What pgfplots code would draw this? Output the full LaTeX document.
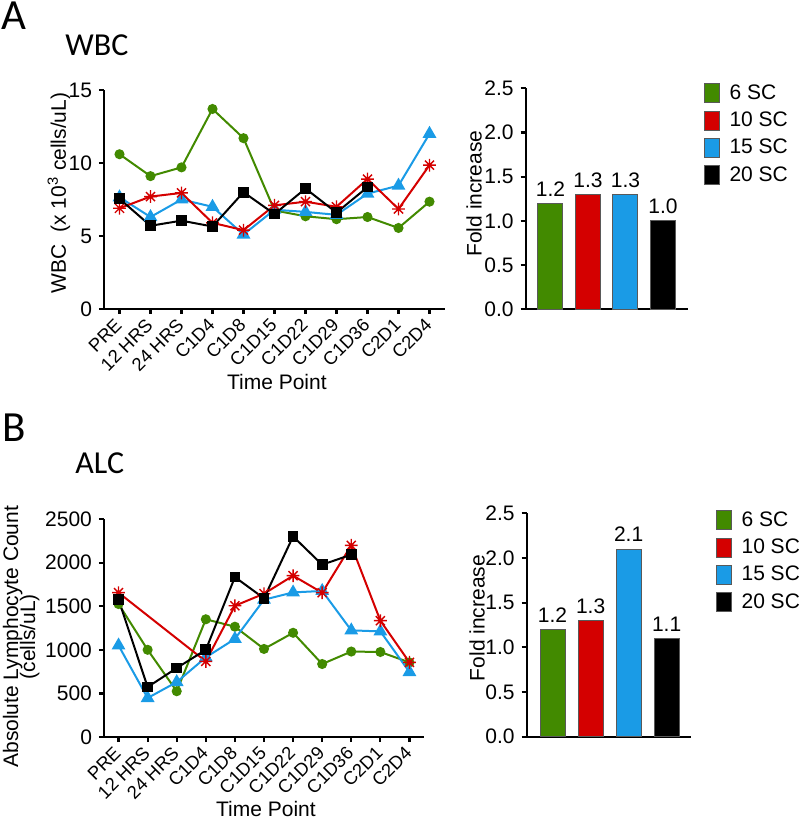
\documentclass[border=0pt]{standalone}
\usepackage{fontspec}
\setmainfont{Liberation Sans}
\newfontfamily\calibri{Carlito}
\usepackage{pgfplots}
\pgfplotsset{compat=1.18}

\definecolor{cgreen}{HTML}{428A00}
\definecolor{cred}{HTML}{D40000}
\definecolor{cblue}{HTML}{1A9BE6}

\pgfdeclareplotmark{ast8}{%
 \pgfpathmoveto{\pgfqpoint{-\pgfplotmarksize}{0pt}}\pgfpathlineto{\pgfqpoint{\pgfplotmarksize}{0pt}}%
 \pgfpathmoveto{\pgfqpoint{0pt}{-\pgfplotmarksize}}\pgfpathlineto{\pgfqpoint{0pt}{\pgfplotmarksize}}%
 \pgfpathmoveto{\pgfqpoint{-0.707\pgfplotmarksize}{-0.707\pgfplotmarksize}}\pgfpathlineto{\pgfqpoint{0.707\pgfplotmarksize}{0.707\pgfplotmarksize}}%
 \pgfpathmoveto{\pgfqpoint{-0.707\pgfplotmarksize}{0.707\pgfplotmarksize}}\pgfpathlineto{\pgfqpoint{0.707\pgfplotmarksize}{-0.707\pgfplotmarksize}}%
 \pgfusepathqstroke}

\pgfplotsset{
  gp/.style={
    scale only axis,
    axis x line=bottom, axis y line=left,
    axis line style={line width=1.1pt,-},
    tick style={line width=1.1pt, black},
    major tick length=2.5pt, tick align=outside,
    tick label style={font=\fontsize{10.5}{12}\selectfont},
    /pgf/number format/assume math mode=true,
    /pgf/number format/1000 sep={},
    label style={font=\fontsize{10.5}{12}\selectfont},
  },
  linechart/.style={
    gp, xmin=-0.5, xmax=10.5, xtick={0,...,10},
    xticklabels={PRE,12 HRS,24 HRS,C1D4,C1D8,C1D15,C1D22,C1D29,C1D36,C2D1,C2D4},
    xticklabel style={yshift=-3.2pt, xshift=0.3pt, rotate=45, anchor=east, font=\fontsize{9.2}{11}\selectfont, inner sep=1pt},
    xlabel={Time Point},
  },
  gl/.style={cgreen, line width=1pt, mark=*, mark size=2pt, mark options={solid}},
  bl/.style={cblue, line width=1pt, mark=triangle*, mark size=3pt, mark options={solid}},
  rl/.style={cred, line width=1pt, mark=ast8, mark size=3.2pt, mark options={solid, line width=0.7pt}},
  kl/.style={black, line width=1pt, mark=square*, mark size=2.2pt, mark options={solid}},
  barchart/.style={
    gp, ymin=0, ymax=2.5, ytick={0,0.5,1,1.5,2,2.5},
    yticklabel style={/pgf/number format/.cd, fixed, precision=1, zerofill},
    xtick=\empty, ylabel={Fold increase},
    ybar, bar shift=0pt,
    nodes near coords,
    nodes near coords style={text=black, font=\fontsize{10.5}{12}\selectfont, /pgf/number format/.cd, fixed, precision=1, zerofill},
    legend cell align=left,
    legend style={anchor=north west, draw=none, fill=none, inner sep=0pt, row sep=3.6pt,
      font=\fontsize{10.5}{12}\selectfont, nodes={inner sep=0.6pt},
      /tikz/every odd column/.append style={column sep=4pt}},
  },
  barstyle/.style={fill=#1, draw=black!65, line width=0.5pt,
    legend image code/.code={\draw[fill=#1, draw=black!65, line width=0.5pt] (0pt,-4.75pt) rectangle (7.5pt,4.75pt);}},
}

\begin{document}
\begin{tikzpicture}
\path[use as bounding box] (0,0) rectangle (400pt,409.5pt);

\node[anchor=base west, inner sep=0pt, font=\calibri\fontsize{21.5}{24}\selectfont] at (0.5pt,394.5pt) {A};
\node[anchor=base west, inner sep=0pt, font=\calibri\fontsize{16}{18}\selectfont] at (32.5pt,381.5pt) {WBC};
\node[anchor=base west, inner sep=0pt, font=\calibri\fontsize{21.5}{24}\selectfont] at (1pt,188.5pt) {B};
\node[anchor=base west, inner sep=0pt, font=\calibri\fontsize{16}{18}\selectfont] at (37.5pt,172.5pt) {ALC};

% ---------- WBC line chart
\begin{axis}[linechart, at={(52pt,255pt)}, anchor=south west, width=170.5pt, height=109.5pt,
  ymin=0, ymax=15, ytick={0,5,10,15},
  ylabel={WBC\ \ (x 10\textsuperscript{3} cells/uL)},
  xlabel style={at={(axis description cs:0.507,-0.333)}, anchor=center},
  ylabel style={at={(axis description cs:-0.132,0.53)}, anchor=center}]
\addplot[gl] coordinates {(0,10.6)(1,9.1)(2,9.7)(3,13.7)(4,11.7)(5,6.75)(6,6.35)(7,6.15)(8,6.3)(9,5.55)(10,7.35)};
\addplot[bl] coordinates {(0,7.65)(1,6.3)(2,7.5)(3,7.0)(4,5.1)(5,6.8)(6,6.65)(7,6.45)(8,7.9)(9,8.45)(10,12.0)};
\addplot[rl] coordinates {(0,6.9)(1,7.7)(2,7.95)(3,5.9)(4,5.4)(5,7.1)(6,7.35)(7,7.0)(8,8.9)(9,6.85)(10,9.85)};
\addplot[kl] coordinates {(0,7.55)(1,5.7)(2,6.05)(3,5.65)(4,8.0)(5,6.5)(6,8.25)(7,6.6)(8,8.35)};
\end{axis}

% ---------- ALC line chart
\begin{axis}[linechart, at={(52pt,41pt)}, anchor=south west, width=160pt, height=109pt,
  ymin=0, ymax=2500, ytick={0,500,1000,1500,2000,2500},
  ylabel={Absolute Lymphocyte Count\\[-3.5pt](cells/uL)},
  xlabel style={at={(axis description cs:0.506,-0.328)}, anchor=center},
  ylabel style={align=center, at={(axis description cs:-0.259,0.46)}, anchor=center}]
\addplot[gl] coordinates {(0,1525)(1,1000)(2,525)(3,1350)(4,1265)(5,1010)(6,1195)(7,837)(8,980)(9,975)(10,855)};
\addplot[bl] coordinates {(0,1050)(1,447)(2,630)(3,913)(4,1125)(5,1575)(6,1658)(7,1675)(8,1223)(9,1211)(10,745)};
\addplot[rl] coordinates {(0,1655)(3,867)(4,1505)(5,1643)(6,1850)(7,1655)(8,2198)(9,1334)(10,856)};
\addplot[kl] coordinates {(0,1575)(1,573)(2,791)(3,1000)(4,1834)(5,1590)(6,2300)(7,1976)(8,2091)};
\end{axis}

% ---------- WBC bar chart
\begin{axis}[barchart, at={(262.85pt,254.85pt)}, anchor=south west, width=81pt, height=110.5pt,
  xmin=-0.66, xmax=3.66, bar width=12.5pt,
  ylabel style={at={(axis description cs:-0.319,0.524)}, anchor=center},
  legend style={at={(axis description cs:1.10,1.024)}}]
\addplot[barstyle=cgreen] coordinates {(0,1.2)};
\addplot[barstyle=cred] coordinates {(1,1.3)};
\addplot[barstyle=cblue] coordinates {(2,1.3)};
\addplot[barstyle=black] coordinates {(3,1.0)};
\legend{6 SC,10 SC,15 SC,20 SC}
\end{axis}

% ---------- ALC bar chart
\begin{axis}[barchart, at={(263.35pt,41.15pt)}, anchor=south west, width=82.15pt, height=111.7pt,
  xmin=-0.68, xmax=3.64, bar width=12.5pt,
  ylabel style={at={(axis description cs:-0.302,0.531)}, anchor=center},
  legend style={at={(axis description cs:1.152,1.015)}}]
\addplot[barstyle=cgreen] coordinates {(0,1.2)};
\addplot[barstyle=cred] coordinates {(1,1.3)};
\addplot[barstyle=cblue] coordinates {(2,2.1)};
\addplot[barstyle=black] coordinates {(3,1.1)};
\legend{6 SC,10 SC,15 SC,20 SC}
\end{axis}
\end{tikzpicture}
\end{document}
